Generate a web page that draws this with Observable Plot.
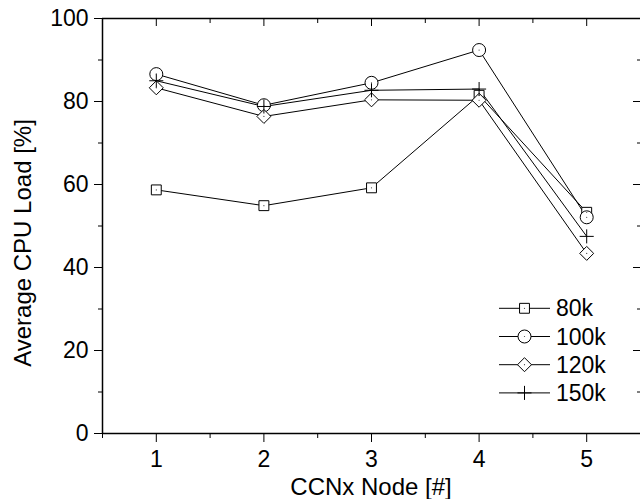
<!DOCTYPE html>
<html><head><meta charset="utf-8">
<script src="https://cdn.jsdelivr.net/npm/d3@7"></script>
<script src="https://cdn.jsdelivr.net/npm/@observablehq/plot@0.6"></script>
<style>
body{margin:0;background:#fff;}
#chart{position:relative;width:640px;height:499px;font-family:Arial,"Liberation Sans",sans-serif;}
#legend{position:absolute;left:0;top:0;pointer-events:none;font-family:Arial,"Liberation Sans",sans-serif;}
</style></head><body><div id="chart"></div>
<script>
const nodes = [1, 2, 3, 4, 5];
const series = ["80k", "100k", "120k", "150k"];
const load80k  = [58.7, 54.9, 59.2, 81.5, 53.3];
const load100k = [86.6, 79.1, 84.5, 92.4, 52.1];
const load120k = [83.3, 76.4, 80.4, 80.3, 43.4];
const load150k = [85.0, 78.8, 82.7, 83.0, 47.5];
const yTicks = [0, 20, 40, 60, 80, 100];
const yMinor = [10, 30, 50, 70, 90];
const xTicks = [1, 2, 3, 4, 5];
const xMinor = [0.5, 1.5, 2.5, 3.5, 4.5, 5.5];
const xLabel = "CCNx Node [#]";
const yLabel = "Average CPU Load [%]";
const symbols = ["square2", "circle", "diamond2", "plus"];
const radii = [6.3, 6.5, 6.3, 4.6];

const values = [load80k, load100k, load120k, load150k];
const data = series.flatMap((s, i) => nodes.map((n, j) => ({series: s, node: n, load: values[i][j]})));
const blank = () => "";

const dotMarks = series.map((s, i) => Plot.dot(data.filter(d => d.series === s), {
  x: "node", y: "load", symbol: symbols[i], r: radii[i], stroke: "black", fill: "white", strokeWidth: 1
}));

const plot = Plot.plot({
  width: 640, height: 499,
  marginLeft: 102, marginRight: 0, marginTop: 18, marginBottom: 66,
  style: {fontFamily: "Arial, 'Liberation Sans', sans-serif", fontSize: "23px", color: "#000", background: "#fff"},
  x: {domain: [0.5, 5.5]},
  y: {domain: [0, 100]},
  marks: [
    Plot.axisX(xTicks, {anchor: "bottom", tickSize: 9, tickPadding: 8, label: null, fontSize: 23}),
    Plot.axisX(xMinor, {anchor: "bottom", tickSize: 5, tickFormat: blank, label: null}),
    Plot.axisX(xTicks, {anchor: "top", tickSize: -7, tickFormat: blank, label: null}),
    Plot.axisX(xMinor, {anchor: "top", tickSize: -4, tickFormat: blank, label: null}),
    Plot.axisY(yTicks, {anchor: "left", tickSize: 8, tickPadding: 6, label: null, fontSize: 23}),
    Plot.axisY(yMinor, {anchor: "left", tickSize: 4, tickFormat: blank, label: null}),
    Plot.axisY(yTicks, {anchor: "right", tickSize: -8, tickFormat: blank, label: null}),
    Plot.axisY(yMinor, {anchor: "right", tickSize: -4, tickFormat: blank, label: null}),
    Plot.ruleX([0.5], {stroke: "black", strokeWidth: 1.5}),
    Plot.ruleY([0, 100], {stroke: "black", strokeWidth: 1.5}),
    Plot.line(data, {x: "node", y: "load", z: "series", stroke: "black", strokeWidth: 1}),
    ...dotMarks,
    Plot.dot(data.filter(d => d.series !== "150k"), {x: "node", y: "load", r: 0.6, fill: "#444", stroke: null})
  ]
});
document.getElementById("chart").appendChild(plot);

// overlay: axis titles and legend
const leg = d3.select("#chart").append("svg").attr("id", "legend").attr("width", 640).attr("height", 499);
leg.append("text").attr("x", 371).attr("y", 495).attr("text-anchor", "middle").attr("font-size", 24).text(xLabel);
leg.append("text").attr("transform", "translate(31,243) rotate(-90)").attr("text-anchor", "middle").attr("font-size", 24).text(yLabel);

const d3sym = {square2: d3.symbolSquare2, circle: d3.symbolCircle, diamond2: d3.symbolDiamond2, plus: d3.symbolPlus};
series.forEach((s, i) => {
  const g = leg.append("g").attr("transform", `translate(0,${308.3 + i * 28.2})`);
  g.append("line").attr("x1", 499).attr("x2", 550).attr("y1", 0).attr("y2", 0).attr("stroke", "black").attr("stroke-width", 1);
  g.append("path").attr("transform", "translate(524.5,0)")
    .attr("d", d3.symbol(d3sym[symbols[i]], Math.PI * radii[i] * radii[i])())
    .attr("fill", "white").attr("stroke", "black").attr("stroke-width", 1);
  if (symbols[i] !== "plus") g.append("circle").attr("cx", 524.5).attr("cy", 0).attr("r", 0.6).attr("fill", "#444");
  g.append("text").attr("x", 556).attr("y", 0).attr("dy", "0.35em").attr("font-size", 23).text(s);
});
</script></body></html>
